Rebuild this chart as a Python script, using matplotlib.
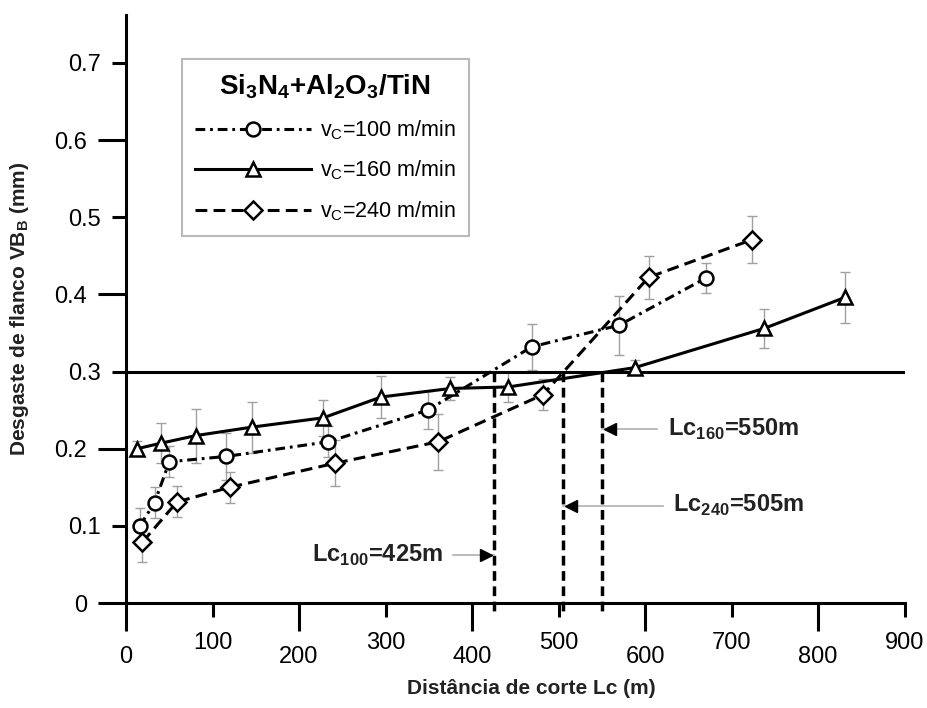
import matplotlib
matplotlib.use("Agg")
import matplotlib.pyplot as plt

plt.rcParams['font.family'] = ['Liberation Sans', 'DejaVu Sans']
plt.rcParams['mathtext.fontset'] = 'custom'
plt.rcParams['mathtext.rm'] = 'Liberation Sans'
plt.rcParams['mathtext.bf'] = 'Liberation Sans:bold'
plt.rcParams['lines.scale_dashes'] = False

# wear curves: distance (m), flank wear (mm), error (mm)
lc_100 = [16, 33, 50, 116, 234, 349, 469, 570, 670]
vb_100 = [0.100, 0.130, 0.183, 0.190, 0.209, 0.250, 0.332, 0.360, 0.421]
err_100 = [0.023, 0.020, 0.020, 0.030, 0.020, 0.025, 0.030, 0.038, 0.019]

lc_160 = [13, 40, 81, 146, 228, 295, 375, 442, 588, 738, 831]
vb_160 = [0.200, 0.207, 0.217, 0.228, 0.240, 0.267, 0.278, 0.280, 0.305, 0.356, 0.396]
err_160 = [0.010, 0.026, 0.035, 0.033, 0.023, 0.027, 0.015, 0.020, 0.010, 0.025, 0.033]

lc_240 = [19, 59, 120, 241, 361, 482, 604, 724]
vb_240 = [0.079, 0.131, 0.150, 0.181, 0.209, 0.270, 0.422, 0.471]
err_240 = [0.026, 0.020, 0.020, 0.030, 0.036, 0.020, 0.028, 0.030]

labels = [r'v$_\mathregular{C}$=100 m/min', r'v$_\mathregular{C}$=160 m/min', r'v$_\mathregular{C}$=240 m/min']

x_long = [0, 200, 400, 600, 800]
x_short = [100, 300, 500, 700, 900]
y_long = [0, 0.2, 0.4, 0.6]
y_short = [0.1, 0.3, 0.5, 0.7]

vb_limit = 0.3
lc_crit = [425, 505, 550]
crit_text = [r'Lc$_{\mathbf{100}}$=425m', r'Lc$_{\mathbf{240}}$=505m', r'Lc$_{\mathbf{160}}$=550m']
crit_text_x = [366, 632, 627]
crit_line_x = [378, 621, 614]
crit_arrow_y = [0.062, 0.126, 0.225]

fig = plt.figure(figsize=(9.28, 7.08), dpi=100)
ax = fig.add_axes([0.1358, 0.1483, 0.8390, 0.8305])

err_kw = dict(fmt='none', ecolor='#a0a0a0', elinewidth=1.0, capsize=3.5, capthick=1.0, zorder=1)
ax.errorbar(lc_100, vb_100, yerr=err_100, **err_kw)
ax.errorbar(lc_160, vb_160, yerr=err_160, **err_kw)
ax.errorbar(lc_240, vb_240, yerr=err_240, **err_kw)

mk = dict(color='black', lw=2.2, markersize=10, markerfacecolor='white',
          markeredgecolor='black', markeredgewidth=1.8, zorder=3)
ax.plot(lc_100, vb_100, linestyle=(0, (7, 3.5, 2, 3.5)), marker='o', label=labels[0], **mk)
ax.plot(lc_160, vb_160, linestyle='-', marker='^', label=labels[1], **mk)
ax.plot(lc_240, vb_240, linestyle=(0, (8.5, 4.5)), marker='D', label=labels[2],
        **{**mk, 'markersize': 9})

# wear criterion and critical distances
ax.axhline(vb_limit, color='black', lw=2.2, zorder=2)
for x in lc_crit:
    ax.plot([x, x], [vb_limit, -0.012], color='black', lw=2.5,
            linestyle=(0, (7, 4)), zorder=2, clip_on=False)

for tx, lx, txt, x, y in zip(crit_text_x, crit_line_x, crit_text, lc_crit, crit_arrow_y):
    left = tx < x
    ax.plot([lx, x], [y, y], color='#b0b0b0', lw=1.2, zorder=2)
    ax.plot([x + (-9 if left else 9)], [y], marker='>' if left else '<',
            color='black', markersize=8, zorder=4)
    ax.text(tx, y, txt, fontsize=17, fontweight='bold', color='#222222',
            ha='right' if left else 'left', va='center')

ax.set_xlim(0, 900)
ax.set_ylim(0, 0.762)

# every tick is a major one; long and short ticks set one by one
x_ticks = sorted(x_long + x_short)
y_ticks = sorted(y_long + y_short)
ax.set_xticks(x_ticks)
ax.set_xticklabels([f'{v:.0f}' for v in x_ticks])
ax.set_yticks(y_ticks)
ax.set_yticklabels(['0' if v == 0 else f'{v:.1f}' for v in y_ticks])
ax.tick_params(direction='out', width=2.2, labelsize=17)

for tick, v in zip(ax.xaxis.get_major_ticks(), x_ticks):
    tick._apply_params(size=20 if v in x_long else 10, pad=11)
for tick, v in zip(ax.yaxis.get_major_ticks(), y_ticks):
    tick._apply_params(size=20 if v in y_long else 10, pad=8)

for s in ['top', 'right']:
    ax.spines[s].set_visible(False)
for s in ['left', 'bottom']:
    ax.spines[s].set_linewidth(2.2)

ax.set_xlabel('Distância de corte Lc (m)', fontsize=15, fontweight='bold', color='#222222')
ax.xaxis.set_label_coords(0.52, -0.13)
ax.set_ylabel(r'Desgaste de flanco VB$_\mathbf{B}$ (mm)', fontsize=15, fontweight='bold', color='#222222')
ax.yaxis.set_label_coords(-0.122, 0.5)

leg = ax.legend(loc='upper left', bbox_to_anchor=(0.072, 0.925), borderaxespad=0,
                fontsize=15.5, handlelength=5.4, frameon=True, fancybox=False,
                title=r'Si$_\mathregular{3}$N$_\mathregular{4}$+Al$_\mathregular{2}$O$_\mathregular{3}$/TiN',
                title_fontproperties={'size': 20, 'weight': 'bold'},
                labelspacing=0.8, borderpad=0.6, handletextpad=0.4)
leg.get_frame().set_edgecolor('#a8a8a8')
leg.get_frame().set_linewidth(1.5)

fig.savefig('out.png', dpi=100, facecolor='white')
